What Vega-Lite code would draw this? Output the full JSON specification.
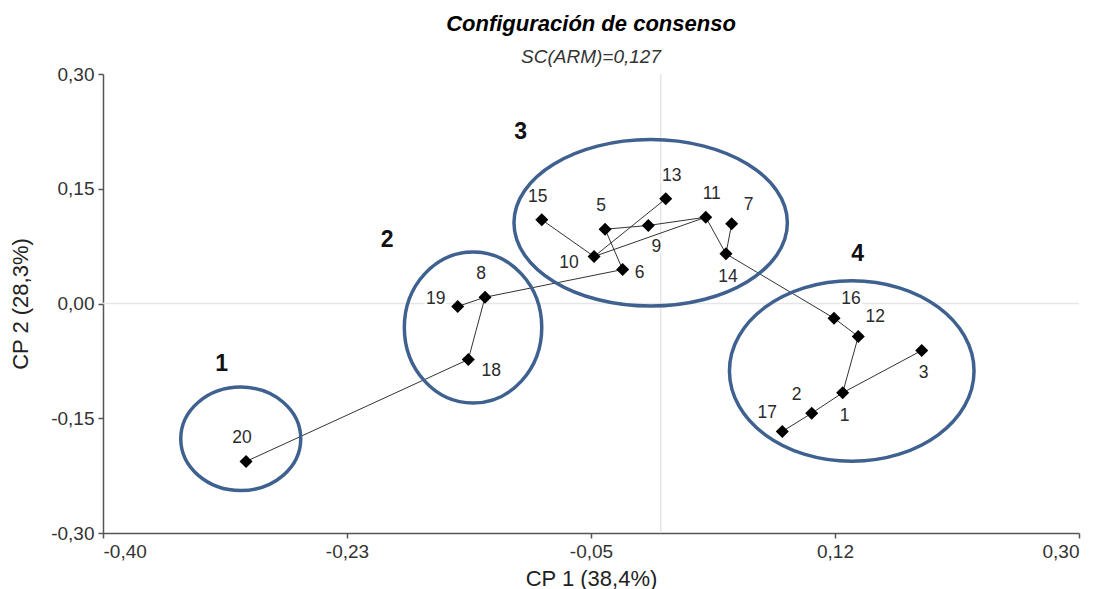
{
  "$schema": "https://vega.github.io/schema/vega-lite/v6.json",
  "autosize": "none",
  "width": 976,
  "height": 459,
  "padding": {"left": 103, "top": 74, "right": 26, "bottom": 56},
  "background": "white",
  "title": {
    "text": "Configuración de consenso",
    "subtitle": "SC(ARM)=0,127",
    "anchor": "middle",
    "frame": "group",
    "font": "Liberation Sans",
    "fontSize": 22,
    "fontStyle": "italic",
    "fontWeight": "bold",
    "color": "#000000",
    "subtitleFont": "Liberation Sans",
    "subtitleFontSize": 19,
    "subtitleFontStyle": "italic",
    "subtitleColor": "#333333",
    "subtitlePadding": 12,
    "offset": -3
  },
  "datasets": {
    "puntos": [
      {"id": 1, "cp1": 0.1305, "cp2": -0.1167, "lado": "S"},
      {"id": 2, "cp1": 0.1083, "cp2": -0.1434, "lado": "NW"},
      {"id": 3, "cp1": 0.1872, "cp2": -0.0614, "lado": "S"},
      {"id": 5, "cp1": -0.0399, "cp2": 0.0971, "lado": "N"},
      {"id": 6, "cp1": -0.0273, "cp2": 0.0444, "lado": "E"},
      {"id": 7, "cp1": 0.0509, "cp2": 0.1042, "lado": "NE"},
      {"id": 8, "cp1": -0.126, "cp2": 0.0082, "lado": "N"},
      {"id": 9, "cp1": -0.0089, "cp2": 0.102, "lado": "SSE"},
      {"id": 10, "cp1": -0.0478, "cp2": 0.0614, "lado": "W"},
      {"id": 11, "cp1": 0.0323, "cp2": 0.1128, "lado": "NNE"},
      {"id": 12, "cp1": 0.1417, "cp2": -0.0431, "lado": "NE"},
      {"id": 13, "cp1": 0.0036, "cp2": 0.1369, "lado": "NNE"},
      {"id": 14, "cp1": 0.0468, "cp2": 0.065, "lado": "S"},
      {"id": 15, "cp1": -0.0853, "cp2": 0.1094, "lado": "N"},
      {"id": 16, "cp1": 0.1243, "cp2": -0.0192, "lado": "NE"},
      {"id": 17, "cp1": 0.0872, "cp2": -0.1673, "lado": "NW"},
      {"id": 18, "cp1": -0.138, "cp2": -0.0732, "lado": "ESE"},
      {"id": 19, "cp1": -0.1456, "cp2": -0.0039, "lado": "WNW"},
      {"id": 20, "cp1": -0.2974, "cp2": -0.2065, "lado": "N"}
    ],
    "aristas": [
      {"desde": 20, "hasta": 18},
      {"desde": 18, "hasta": 8},
      {"desde": 8, "hasta": 19},
      {"desde": 8, "hasta": 6},
      {"desde": 6, "hasta": 5},
      {"desde": 5, "hasta": 9},
      {"desde": 9, "hasta": 11},
      {"desde": 10, "hasta": 11},
      {"desde": 10, "hasta": 13},
      {"desde": 10, "hasta": 15},
      {"desde": 11, "hasta": 14},
      {"desde": 14, "hasta": 7},
      {"desde": 14, "hasta": 16},
      {"desde": 16, "hasta": 12},
      {"desde": 12, "hasta": 1},
      {"desde": 1, "hasta": 3},
      {"desde": 1, "hasta": 2},
      {"desde": 2, "hasta": 17}
    ],
    "grupos": [
      {"grupo": "1", "cp1": -0.3012, "cp2": -0.1769, "etq_cp1": -0.3149, "etq_cp2": -0.0788},
      {"grupo": "2", "cp1": -0.1346, "cp2": -0.0314, "etq_cp1": -0.1963, "etq_cp2": 0.0824},
      {"grupo": "3", "cp1": -0.0072, "cp2": 0.1055, "etq_cp1": -0.1004, "etq_cp2": 0.2239},
      {"grupo": "4", "cp1": 0.137, "cp2": -0.0882, "etq_cp1": 0.1413, "etq_cp2": 0.065}
    ]
  },
  "config": {
    "view": {"stroke": null},
    "axis": {
      "grid": false,
      "domainColor": "#555555",
      "domainWidth": 1.5,
      "tickColor": "#555555",
      "tickWidth": 1.5,
      "tickSize": 5,
      "labelFont": "Liberation Sans",
      "labelFontSize": 19,
      "labelColor": "#333333",
      "titleFont": "Liberation Sans",
      "titleFontSize": 22,
      "titleFontWeight": "normal",
      "titleColor": "#222222"
    }
  },
  "layer": [
    {
      "data": {"values": [{}]},
      "mark": {"type": "rule", "color": "#e6e6e6", "strokeWidth": 1.5},
      "encoding": {"x": {"datum": 0, "type": "quantitative"}}
    },
    {
      "data": {"values": [{}]},
      "mark": {"type": "rule", "color": "#e6e6e6", "strokeWidth": 1.5},
      "encoding": {"y": {"datum": 0, "type": "quantitative"}}
    },
    {
      "data": {"name": "aristas"},
      "transform": [
        {"lookup": "desde", "from": {"data": {"name": "puntos"}, "key": "id", "fields": ["cp1", "cp2"]}, "as": ["cp1", "cp2"]},
        {"lookup": "hasta", "from": {"data": {"name": "puntos"}, "key": "id", "fields": ["cp1", "cp2"]}, "as": ["cp1_fin", "cp2_fin"]}
      ],
      "mark": {"type": "rule", "color": "#333333", "strokeWidth": 1},
      "encoding": {
        "x": {"field": "cp1", "type": "quantitative"},
        "y": {"field": "cp2", "type": "quantitative"},
        "x2": {"field": "cp1_fin"},
        "y2": {"field": "cp2_fin"}
      }
    },
    {
      "data": {"name": "puntos"},
      "mark": {"type": "point", "shape": "diamond", "filled": true, "color": "#000000", "opacity": 1, "size": 170},
      "encoding": {
        "x": {
          "field": "cp1", "type": "quantitative",
          "scale": {"domain": [-0.4, 0.3], "nice": false, "zero": false},
          "axis": {
            "title": "CP 1 (38,4%)",
            "values": [-0.4, -0.225, -0.05, 0.125, 0.3],
            "labelExpr": "replace(replace(format(datum.value - 1e-9, '.2f'), '.', ','), '\u2212', '-')",
            "labelPadding": 4,
            "titlePadding": 7
          }
        },
        "y": {
          "field": "cp2", "type": "quantitative",
          "scale": {"domain": [-0.3, 0.3], "nice": false, "zero": false},
          "axis": {
            "title": "CP 2 (28,3%)",
            "values": [-0.3, -0.15, 0, 0.15, 0.3],
            "labelExpr": "replace(replace(format(datum.value, '.2f'), '.', ','), '\u2212', '-')",
            "labelPadding": 4,
            "titlePadding": 18
          }
        }
      }
    },
    {
      "data": {"name": "puntos"},
      "mark": {
        "type": "text", "font": "Liberation Sans", "fontSize": 17.5,
        "align": "center", "baseline": "middle",
        "stroke": "white", "strokeWidth": 5, "strokeJoin": "round", "color": "white",
        "dx": {"expr": "{'N': -4, 'NNE': 6, 'NE': 17, 'E': 17, 'ESE': 23, 'SSE': 8, 'S': 2, 'W': -25, 'WNW': -22, 'NW': -15}[datum.lado]"},
        "dy": {"expr": "{'N': -23, 'NNE': -23, 'NE': -19, 'E': 3, 'ESE': 12, 'SSE': 22, 'S': 23, 'W': 6, 'WNW': -7, 'NW': -18}[datum.lado]"}
      },
      "encoding": {
        "x": {"field": "cp1", "type": "quantitative"},
        "y": {"field": "cp2", "type": "quantitative"},
        "text": {"field": "id", "type": "nominal"}
      }
    },
    {
      "data": {"name": "puntos"},
      "mark": {
        "type": "text", "font": "Liberation Sans", "fontSize": 17.5,
        "align": "center", "baseline": "middle", "color": "#2b2b2b",
        "dx": {"expr": "{'N': -4, 'NNE': 6, 'NE': 17, 'E': 17, 'ESE': 23, 'SSE': 8, 'S': 2, 'W': -25, 'WNW': -22, 'NW': -15}[datum.lado]"},
        "dy": {"expr": "{'N': -23, 'NNE': -23, 'NE': -19, 'E': 3, 'ESE': 12, 'SSE': 22, 'S': 23, 'W': 6, 'WNW': -7, 'NW': -18}[datum.lado]"}
      },
      "encoding": {
        "x": {"field": "cp1", "type": "quantitative"},
        "y": {"field": "cp2", "type": "quantitative"},
        "text": {"field": "id", "type": "nominal"}
      }
    },
    {
      "data": {"name": "grupos"},
      "transform": [{"filter": "datum.grupo == '1'"}],
      "mark": {"type": "point", "filled": false, "opacity": 1, "stroke": "#3e6190", "strokeWidth": 3.5,
               "shape": "M -1 0 A 1 0.862 0 1 0 1 0 A 1 0.862 0 1 0 -1 0 Z", "size": 14400},
      "encoding": {
        "x": {"field": "cp1", "type": "quantitative"},
        "y": {"field": "cp2", "type": "quantitative"}
      }
    },
    {
      "data": {"name": "grupos"},
      "transform": [{"filter": "datum.grupo == '2'"}],
      "mark": {"type": "point", "filled": false, "opacity": 1, "stroke": "#3e6190", "strokeWidth": 3.5,
               "shape": "M -0.91 0 A 0.91 1 0 1 0 0.91 0 A 0.91 1 0 1 0 -0.91 0 Z", "size": 22801},
      "encoding": {
        "x": {"field": "cp1", "type": "quantitative"},
        "y": {"field": "cp2", "type": "quantitative"}
      }
    },
    {
      "data": {"name": "grupos"},
      "transform": [{"filter": "datum.grupo == '3'"}],
      "mark": {"type": "point", "filled": false, "opacity": 1, "stroke": "#3e6190", "strokeWidth": 3.5,
               "shape": "M -1 0 A 1 0.609 0 1 0 1 0 A 1 0.609 0 1 0 -1 0 Z", "size": 74748},
      "encoding": {
        "x": {"field": "cp1", "type": "quantitative"},
        "y": {"field": "cp2", "type": "quantitative"}
      }
    },
    {
      "data": {"name": "grupos"},
      "transform": [{"filter": "datum.grupo == '4'"}],
      "mark": {"type": "point", "filled": false, "opacity": 1, "stroke": "#3e6190", "strokeWidth": 3.5,
               "shape": "M -1 0 A 1 0.738 0 1 0 1 0 A 1 0.738 0 1 0 -1 0 Z", "size": 59829},
      "encoding": {
        "x": {"field": "cp1", "type": "quantitative"},
        "y": {"field": "cp2", "type": "quantitative"}
      }
    },
    {
      "data": {"name": "grupos"},
      "mark": {"type": "text", "font": "Liberation Sans", "fontSize": 23, "fontWeight": "bold",
               "align": "center", "baseline": "middle", "color": "#111111"},
      "encoding": {
        "x": {"field": "etq_cp1", "type": "quantitative"},
        "y": {"field": "etq_cp2", "type": "quantitative"},
        "text": {"field": "grupo", "type": "nominal"}
      }
    }
  ]
}
